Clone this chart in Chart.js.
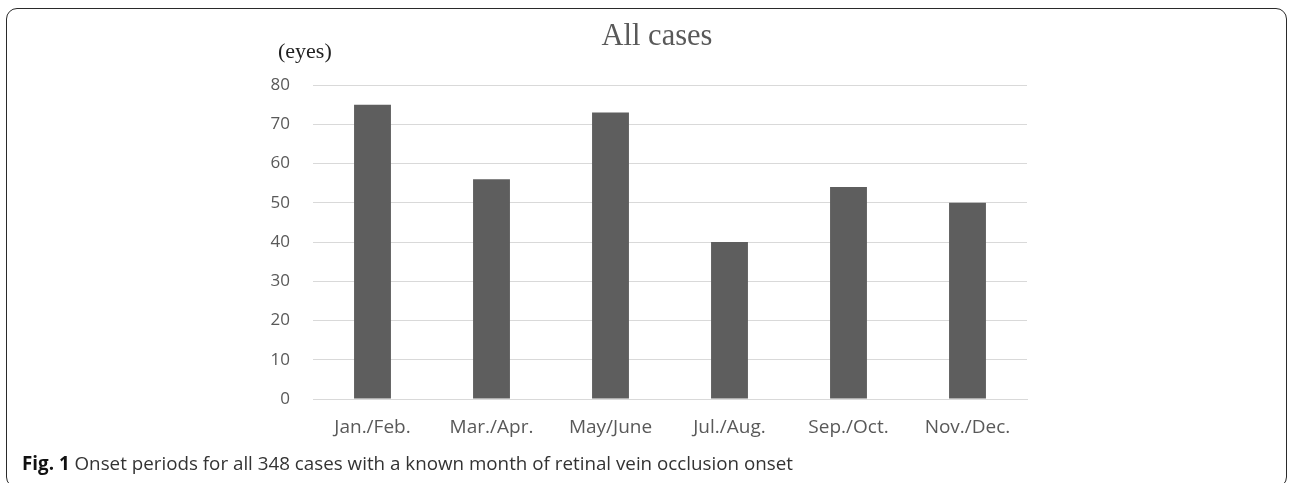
<!DOCTYPE html>
<html>
<head>
<meta charset="utf-8">
<script src="https://cdn.jsdelivr.net/npm/chart.js@4"></script>
<style>
  html, body { margin: 0; padding: 0; background: #fff; }
  body { width: 1290px; height: 483px; position: relative; overflow: hidden; }
  #frame { position: absolute; left: 6px; top: 8px; width: 1281px; height: 480px; border: 1.5px solid #2a2a2a; border-radius: 11px; box-sizing: border-box; }
  #wrap { position: absolute; left: 0; top: 0; width: 1290px; height: 483px; }
  .title { position: absolute; left: 0; width: 1314px; top: 18px; text-align: center; font-family: "Liberation Serif", serif; font-size: 30.5px; color: #595959; line-height: 34px; }
  .unit { position: absolute; left: 278px; top: 38px; font-family: "Liberation Serif", serif; font-size: 22px; color: #222; line-height: 26px; }
  .caption { position: absolute; left: 22px; top: 451px; font-family: "Open Sans", sans-serif; font-size: 18.8px; color: #333; line-height: 24px; white-space: nowrap; }
  .caption b { color: #111; }
</style>
</head>
<body>
<div id="frame"></div>
<div id="wrap"><canvas id="c" width="1290" height="483"></canvas></div>
<div class="title">All cases</div>
<div class="unit">(eyes)</div>
<div class="caption"><b>Fig. 1</b> Onset periods for all 348 cases with a known month of retinal vein occlusion onset</div>
<script>
const categories = ["Jan./Feb.", "Mar./Apr.", "May/June", "Jul./Aug.", "Sep./Oct.", "Nov./Dec."];
const eyes = [75, 56, 73, 40, 54, 50];
const yTicks = [0, 10, 20, 30, 40, 50, 60, 70, 80];

new Chart(document.getElementById('c'), {
  type: 'bar',
  data: {
    labels: categories,
    datasets: [{
      data: eyes,
      backgroundColor: '#5e5e5e',
      borderWidth: 0,
      barPercentage: 1,
      categoryPercentage: 0.31
    }]
  },
  options: {
    responsive: false,
    animation: false,
    devicePixelRatio: 1,
    layout: { padding: { left: 0, right: 263, top: 85, bottom: 0 } },
    plugins: { legend: { display: false }, tooltip: { enabled: false }, title: { display: false } },
    scales: {
      x: {
        grid: { display: false, drawTicks: false },
        border: { display: true, color: '#d9d9d9', width: 1 },
        ticks: { color: '#595959', font: { family: 'Open Sans', size: 19 }, padding: 17, maxRotation: 0 },
        afterFit: s => { s.height = 84; }
      },
      y: {
        min: 0, max: 80,
        afterBuildTicks: s => { s.ticks = yTicks.map(v => ({ value: v })); },
        grid: { color: '#d9d9d9', lineWidth: 1, drawTicks: false },
        border: { display: false },
        ticks: { color: '#595959', font: { family: 'Open Sans', size: 17 }, padding: 23 },
        afterFit: s => { s.width = 313; }
      }
    }
  }
});
</script>
</body>
</html>
